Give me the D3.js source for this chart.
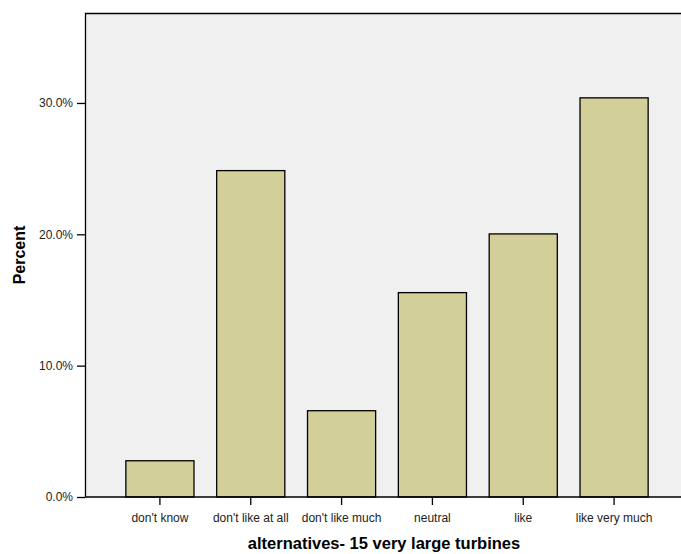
<!DOCTYPE html>
<html>
<head>
<meta charset="utf-8">
<script src="https://cdn.jsdelivr.net/npm/d3@7"></script>
<style>
  body { margin: 0; background: #fff; }
  text { font-family: Arial, "Liberation Sans", sans-serif; fill: #000; }
</style>
</head>
<body>
<div id="content"><svg width="681" height="554"></svg></div>
<script>
// answers and their share of respondents (%)
var categories = ["don't know", "don't like at all", "don't like much", "neutral", "like", "like very much"];
var percents = [2.76, 24.85, 6.57, 15.56, 20.03, 30.39];
var yTicks = [0, 10, 20, 30];

var svg = d3.select("#content").select("svg");
var margin = {top: 13, right: 0, bottom: 57, left: 85},
    width = +svg.attr("width") - margin.left - margin.right,
    height = +svg.attr("height") - margin.top - margin.bottom;

var g = svg.append("g")
    .attr("transform", "translate(" + margin.left + "," + margin.top + ")");

var xScale = d3.scaleBand().domain(categories).range([29.5, 574.5]).paddingInner(0.25).paddingOuter(0.125);
var yScale = d3.scaleLinear().domain([0, 36.85]).range([height, 0]);

// plot background
g.append("rect")
    .attr("x", 0).attr("y", 0)
    .attr("width", width).attr("height", height)
    .style("fill", "#f0f0f0");

// bars
g.selectAll(".bar")
    .data(percents)
    .enter()
    .append("rect")
    .attr("class", "bar")
    .attr("x", function (d, i) {return xScale(categories[i]);})
    .attr("y", function (d) {return yScale(d);})
    .attr("width", xScale.bandwidth())
    .attr("height", function (d) {return height - yScale(d);})
    .style("fill", "#d3cf98")
    .style("stroke", "#000")
    .style("stroke-width", 1.3);

// frame: top, left and bottom
g.append("path")
    .attr("d", "M" + width + ",0.5H0.5V" + height + "H" + width)
    .style("fill", "none")
    .style("stroke", "#000")
    .style("stroke-width", 1.3);

var yAxis = g.append("g")
    .call(d3.axisLeft(yScale).tickValues(yTicks).tickSize(8).tickPadding(4)
        .tickFormat(function (d) {return d3.format(".1f")(d) + "%";}));
yAxis.select(".domain").remove();
yAxis.selectAll("text").style("font-size", "12px").style("fill", "#222");
yAxis.selectAll("line").style("stroke-width", 1.3);

var xAxis = g.append("g")
    .attr("transform", "translate(0," + height + ")")
    .call(d3.axisBottom(xScale).tickSize(8).tickPadding(8));
xAxis.select(".domain").remove();
xAxis.selectAll("text").style("font-size", "12px").style("fill", "#222");
xAxis.selectAll("line").style("stroke-width", 1.3);

svg.append("text")
    .attr("x", 384)
    .attr("y", 549)
    .attr("text-anchor", "middle")
    .style("font-size", "16.5px")
    .style("font-weight", "bold")
    .text("alternatives- 15 very large turbines");

svg.append("text")
    .attr("transform", "translate(25,255) rotate(-90)")
    .attr("text-anchor", "middle")
    .style("font-size", "16px")
    .style("font-weight", "bold")
    .text("Percent");
</script>
</body>
</html>
